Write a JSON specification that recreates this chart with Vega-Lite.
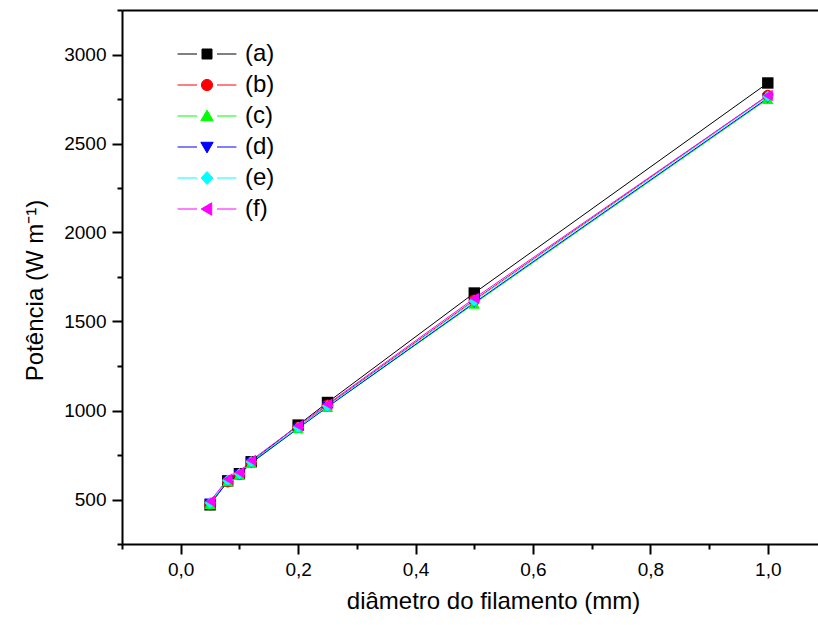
{
  "$schema": "https://vega.github.io/schema/vega-lite/v6.json",
  "width": 696,
  "height": 534,
  "autosize": {"type": "none"},
  "padding": {"left": 122, "top": 10, "right": 0, "bottom": 81},
  "background": "white",
  "config": {
    "view": {"stroke": null},
    "font": "Liberation Sans",
    "axis": {"labelColor": "black", "titleColor": "black", "domainColor": "black", "tickColor": "black", "titleFontWeight": "normal", "grid": false},
    "point": {"filled": true, "opacity": 1, "size": 130, "clip": true}
  },
  "data": {
    "values": [
      {"d": 0.05, "p": 470, "s": "(a)"}, {"d": 0.08, "p": 605, "s": "(a)"}, {"d": 0.1, "p": 645, "s": "(a)"}, {"d": 0.12, "p": 712, "s": "(a)"}, {"d": 0.2, "p": 918, "s": "(a)"}, {"d": 0.25, "p": 1045, "s": "(a)"}, {"d": 0.5, "p": 1660, "s": "(a)"}, {"d": 1.0, "p": 2840, "s": "(a)"},
      {"d": 0.05, "p": 472, "s": "(b)"}, {"d": 0.08, "p": 600, "s": "(b)"}, {"d": 0.1, "p": 640, "s": "(b)"}, {"d": 0.12, "p": 708, "s": "(b)"}, {"d": 0.2, "p": 905, "s": "(b)"}, {"d": 0.25, "p": 1030, "s": "(b)"}, {"d": 0.5, "p": 1620, "s": "(b)"}, {"d": 1.0, "p": 2770, "s": "(b)"},
      {"d": 0.05, "p": 475, "s": "(c)"}, {"d": 0.08, "p": 602, "s": "(c)"}, {"d": 0.1, "p": 640, "s": "(c)"}, {"d": 0.12, "p": 705, "s": "(c)"}, {"d": 0.2, "p": 900, "s": "(c)"}, {"d": 0.25, "p": 1020, "s": "(c)"}, {"d": 0.5, "p": 1600, "s": "(c)"}, {"d": 1.0, "p": 2750, "s": "(c)"},
      {"d": 0.05, "p": 478, "s": "(d)"}, {"d": 0.08, "p": 600, "s": "(d)"}, {"d": 0.1, "p": 638, "s": "(d)"}, {"d": 0.12, "p": 705, "s": "(d)"}, {"d": 0.2, "p": 900, "s": "(d)"}, {"d": 0.25, "p": 1020, "s": "(d)"}, {"d": 0.5, "p": 1605, "s": "(d)"}, {"d": 1.0, "p": 2755, "s": "(d)"},
      {"d": 0.05, "p": 482, "s": "(e)"}, {"d": 0.08, "p": 608, "s": "(e)"}, {"d": 0.1, "p": 645, "s": "(e)"}, {"d": 0.12, "p": 712, "s": "(e)"}, {"d": 0.2, "p": 905, "s": "(e)"}, {"d": 0.25, "p": 1025, "s": "(e)"}, {"d": 0.5, "p": 1615, "s": "(e)"}, {"d": 1.0, "p": 2765, "s": "(e)"},
      {"d": 0.05, "p": 490, "s": "(f)"}, {"d": 0.08, "p": 615, "s": "(f)"}, {"d": 0.1, "p": 652, "s": "(f)"}, {"d": 0.12, "p": 720, "s": "(f)"}, {"d": 0.2, "p": 915, "s": "(f)"}, {"d": 0.25, "p": 1035, "s": "(f)"}, {"d": 0.5, "p": 1630, "s": "(f)"}, {"d": 1.0, "p": 2770, "s": "(f)"}
    ]
  },
  "encoding": {
    "x": {"field": "d", "type": "quantitative", "scale": {"domain": [-0.1, 1.0855], "nice": false, "zero": false}, "axis": null},
    "y": {"field": "p", "type": "quantitative", "scale": {"domain": [250, 3250], "nice": false, "zero": false}},
    "color": {"field": "s", "type": "nominal", "scale": {"domain": ["(a)", "(b)", "(c)", "(d)", "(e)", "(f)"], "range": ["#000000", "#ff0000", "#00ff00", "#0000ff", "#00ffff", "#ff00ff"]}, "legend": null}
  },
  "layer": [
    {
      "mark": {"type": "line", "strokeWidth": 1, "clip": true},
      "encoding": {
        "x": {
          "field": "d", "type": "quantitative",
          "axis": {
            "orient": "bottom",
            "title": "diâmetro do filamento (mm)",
            "titleFontSize": 24, "titlePadding": 10, "titleX": 371,
            "values": [-0.1, 0, 0.1, 0.2, 0.3, 0.4, 0.5, 0.6, 0.7, 0.8, 0.9, 1.0],
            "labelExpr": "abs(round(datum.value*10))%2==1 ? '' : replace(format(datum.value,'.1f'),'.',',')",
            "labelFontSize": 19, "labelPadding": 6, "labelFlush": false, "labelOverlap": false,
            "domainWidth": 2, "tickWidth": 2,
            "tickSize": {"condition": {"test": "abs(round(datum.value*10))%2==1", "value": 5}, "value": 10}
          }
        },
        "y": {
          "field": "p", "type": "quantitative",
          "axis": {
            "title": "Potência (W m⁻¹)",
            "titleFontSize": 24, "titlePadding": 16, "titleY": 280,
            "values": [250, 500, 750, 1000, 1250, 1500, 1750, 2000, 2250, 2500, 2750, 3000, 3250],
            "labelExpr": "datum.value % 500 == 0 ? format(datum.value,'d') : ''",
            "labelFontSize": 19, "labelPadding": 6, "labelFlush": false, "labelOverlap": false,
            "domainWidth": 2, "tickWidth": 2,
            "tickSize": {"condition": {"test": "datum.value % 500 != 0", "value": 5}, "value": 10}
          }
        },
        "color": {
          "field": "s", "type": "nominal",
          "legend": {
            "title": null,
            "orient": "none",
            "legendX": 55,
            "legendY": 28.5,
            "padding": 0,
            "rowPadding": 0,
            "clipHeight": 31,
            "symbolSize": 3457,
            "symbolStrokeWidth": 1,
            "labelFontSize": 24,
            "labelColor": "black",
            "labelOffset": 8,
            "labelLimit": 200,
            "encode": {
              "symbols": {
                "update": {
                  "shape": {"signal": "datum.value==='(a)' ? 'M-1,0H-0.34M0.34,0H1M-0.17,-0.17H0.17V0.17H-0.17Z' : datum.value==='(b)' ? 'M-1,0H-0.34M0.34,0H1M-0.19,0A0.19,0.19 0 1,0 0.19,0A0.19,0.19 0 1,0 -0.19,0Z' : datum.value==='(c)' ? 'M-1,0H-0.34M0.34,0H1M0,-0.2L0.21,0.16H-0.21Z' : datum.value==='(d)' ? 'M-1,0H-0.34M0.34,0H1M0,0.2L0.21,-0.16H-0.21Z' : datum.value==='(e)' ? 'M-1,0H-0.34M0.34,0H1M0,-0.22L0.2,0L0,0.22L-0.2,0Z' : 'M-1,0H-0.34M0.34,0H1M-0.2,0L0.16,-0.21V0.21Z'"},
                  "fill": {"scale": "color", "field": "value"},
                  "stroke": {"scale": "color", "field": "value"},
                  "strokeWidth": {"value": 1},
                  "size": {"value": 3457},
                  "opacity": {"value": 1}
                }
              }
            }
          }
        }
      }
    },
    {
      "transform": [{"filter": "datum.s === '(a)'"}],
      "mark": {"type": "point", "shape": "square"},
      "encoding": {
        "x": {"field": "d", "type": "quantitative", "axis": {"orient": "top", "title": null, "labels": false, "ticks": false, "domainWidth": 2}}
      }
    },
    {
      "transform": [{"filter": "datum.s === '(b)'"}],
      "mark": {"type": "point", "shape": "circle"}
    },
    {
      "transform": [{"filter": "datum.s === '(c)'"}],
      "mark": {"type": "point", "shape": "triangle-up"}
    },
    {
      "transform": [{"filter": "datum.s === '(d)'"}],
      "mark": {"type": "point", "shape": "triangle-down"}
    },
    {
      "transform": [{"filter": "datum.s === '(e)'"}],
      "mark": {"type": "point", "shape": "diamond"}
    },
    {
      "transform": [{"filter": "datum.s === '(f)'"}],
      "mark": {"type": "point", "shape": "triangle-left"}
    }
  ],
  "resolve": {"axis": {"x": "independent"}}
}
